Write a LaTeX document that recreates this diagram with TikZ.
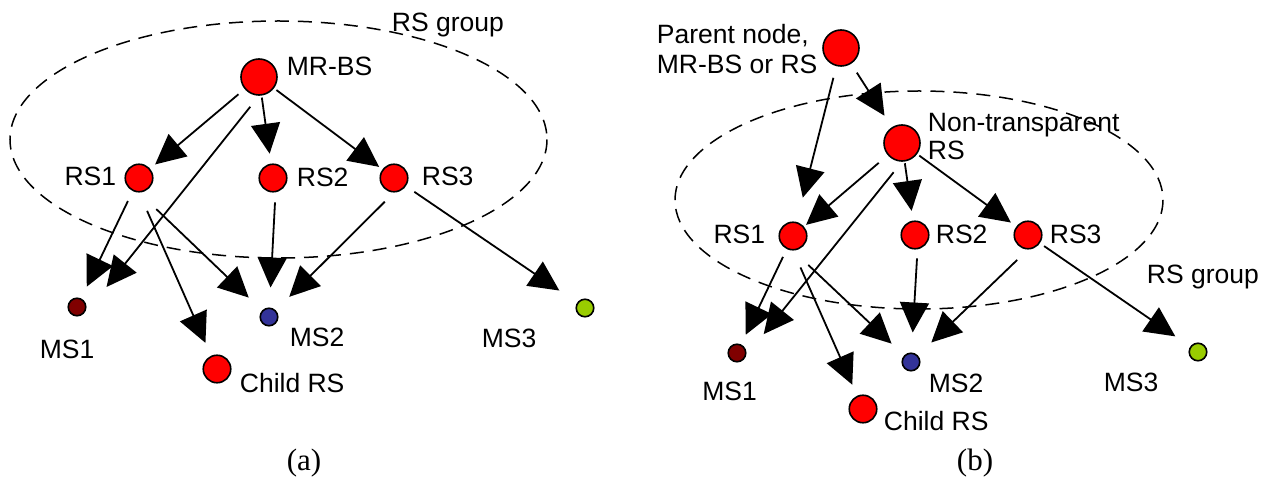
\documentclass[tikz,border=0pt]{standalone}
\usepackage{fontspec}
\setmainfont{Liberation Sans}
\newfontfamily\capfont{Liberation Serif}
\usetikzlibrary{%
  arrows.meta
}
\definecolor{msred}{HTML}{800000}
\definecolor{msblue}{HTML}{333399}
\definecolor{msgreen}{HTML}{99CC00}
\tikzstyle{net}=[x=1pt,y=-1pt,line width=1.8pt]
\tikzstyle{arr}=[-{Triangle[length=30pt,width=29pt]}]
\tikzstyle{bst}=[circle,draw=black,fill=red,line width=1.6pt,minimum size=36pt,inner sep=0pt]
\tikzstyle{st}=[circle,draw=black,fill=red,line width=1.6pt,minimum size=27.5pt,inner sep=0pt]
\tikzstyle{ms}=[circle,draw=black,line width=1.6pt,minimum size=17.5pt,inner sep=0pt]
\tikzstyle{txt}=[inner sep=0pt,font=\fontsize{26.5}{30}\selectfont]
\tikzstyle{captxt}=[inner sep=0pt,font=\capfont\fontsize{31}{36}\selectfont]
\tikzstyle{grp}=[line width=1.5pt,dash pattern=on 14pt off 9pt]

\begin{document}
\begin{tikzpicture}[net]
  \useasboundingbox (0,0) rectangle (1264,478);
  % (a)
  \draw[grp] (278.5,139.5) ellipse [x radius=268.5, y radius=118.5];
  \node[bst] (a_bs) at (259,77) {};
  \node[st] (a_rs1) at (139,178) {};
  \node[st] (a_rs2) at (273,178) {};
  \node[st] (a_rs3) at (394,178) {};
  \node[ms,fill=msred] (a_ms1) at (77,307) {};
  \node[ms,fill=msblue] (a_ms2) at (269,317) {};
  \node[ms,fill=msgreen] (a_ms3) at (585,308) {};
  \node[st] (a_ch) at (217,369) {};
  \node[txt,anchor=base west] (a_grp_t) at (391,32) {RS group};
  \node[txt,anchor=base west] (a_bs_t) at (286,76) {MR-BS};
  \node[txt,anchor=base east] (a_rs1_t) at (117,186) {RS1};
  \node[txt,anchor=base west] (a_rs2_t) at (296,187) {RS2};
  \node[txt,anchor=base west] (a_rs3_t) at (421,186) {RS3};
  \node[txt,anchor=base] (a_ms1_t) at (67,359) {MS1};
  \node[txt,anchor=base west] (a_ms2_t) at (289,347) {MS2};
  \node[txt,anchor=base west] (a_ms3_t) at (481,348) {MS3};
  \node[txt,anchor=base west] (a_ch_t) at (239,392) {Child RS};
  \node[captxt] (a_cap) at (304,463) {(a)};
  \path[arr]
    (a_bs) edge[shorten <=8pt,shorten >=6.5pt] (a_rs1)
           edge[shorten <=2pt,shorten >=10pt] (a_rs2)
           edge[shorten <=3pt,shorten >=4pt] (a_rs3)
    (a_bs.south) edge[shorten <=14pt,shorten >=25.6pt] ([xshift=4pt]a_ms1.east)
    (a_rs1) edge[shorten <=11pt,shorten >=13pt] (a_ms1)
    (a_rs1.south) edge[shorten <=20pt,shorten >=14pt] (a_ch)
                  edge[shorten <=24pt,shorten >=18.5pt] (a_ms2)
    (a_rs2.-80) edge[shorten <=10pt,shorten >=20pt] (a_ms2)
    (a_rs3.south) edge[shorten <=13pt,shorten >=19pt] (a_ms2)
    (a_rs3) edge[shorten <=10pt,shorten >=21.5pt] (a_ms3);

  % (b)
  \draw[grp] (919,200) ellipse [x radius=244, y radius=109];
  \node[bst] (b_par) at (841,48) {};
  \node[bst] (b_nt) at (902,143) {};
  \node[st] (b_rs1) at (793,236) {};
  \node[st] (b_rs2) at (915,235) {};
  \node[st] (b_rs3) at (1028,235) {};
  \node[ms,fill=msred] (b_ms1) at (737,353) {};
  \node[ms,fill=msblue] (b_ms2) at (911,362) {};
  \node[ms,fill=msgreen] (b_ms3) at (1198,352) {};
  \node[st] (b_ch) at (863,409) {};
  \node[txt,anchor=west,align=left] (b_par_t) at (656,49) {Parent node,\\MR-BS or RS};
  \node[txt,anchor=west,align=left,font=\fontsize{26.5}{28}\selectfont] (b_nt_t) at (927,137) {Non-transparent\\RS};
  \node[txt,anchor=base east] (b_rs1_t) at (766,244) {RS1};
  \node[txt,anchor=base west] (b_rs2_t) at (935,244) {RS2};
  \node[txt,anchor=base west] (b_rs3_t) at (1049,244) {RS3};
  \node[txt,anchor=base west] (b_grp_t) at (1146,284) {RS group};
  \node[txt,anchor=base] (b_ms1_t) at (729.5,400) {MS1};
  \node[txt,anchor=base west] (b_ms2_t) at (928,392) {MS2};
  \node[txt,anchor=base west] (b_ms3_t) at (1103,391) {MS3};
  \node[txt,anchor=base west] (b_ch_t) at (883,430) {Child RS};
  \node[captxt] (b_cap) at (975,463) {(b)};
  \path[arr]
    (b_par) edge[shorten <=10.5pt,shorten >=13.6pt] (b_nt)
            edge[shorten <=12pt,shorten >=25pt] (b_rs1)
    (b_nt) edge[shorten <=11.8pt,shorten >=2.6pt] (b_rs1)
           edge[shorten <=1.7pt,shorten >=9.8pt] (b_rs2)
           edge[shorten <=2.6pt,shorten >=6.6pt] (b_rs3)
    (b_nt.south) edge[shorten <=13.4pt,shorten >=24.2pt] ([xshift=2pt]b_ms1.east)
    (b_rs1) edge[shorten <=8.6pt,shorten >=10.7pt] (b_ms1)
    (b_rs1.south) edge[shorten <=18.5pt,shorten >=12pt] (b_ch)
                  edge[shorten <=21pt,shorten >=17.2pt] (b_ms2)
    (b_rs2.-80) edge[shorten <=9pt,shorten >=20pt] (b_ms2)
    (b_rs3.south) edge[shorten <=15pt,shorten >=18.6pt] (b_ms2)
    (b_rs3) edge[shorten <=5pt,shorten >=18pt] (b_ms3);
\end{tikzpicture}
\end{document}
